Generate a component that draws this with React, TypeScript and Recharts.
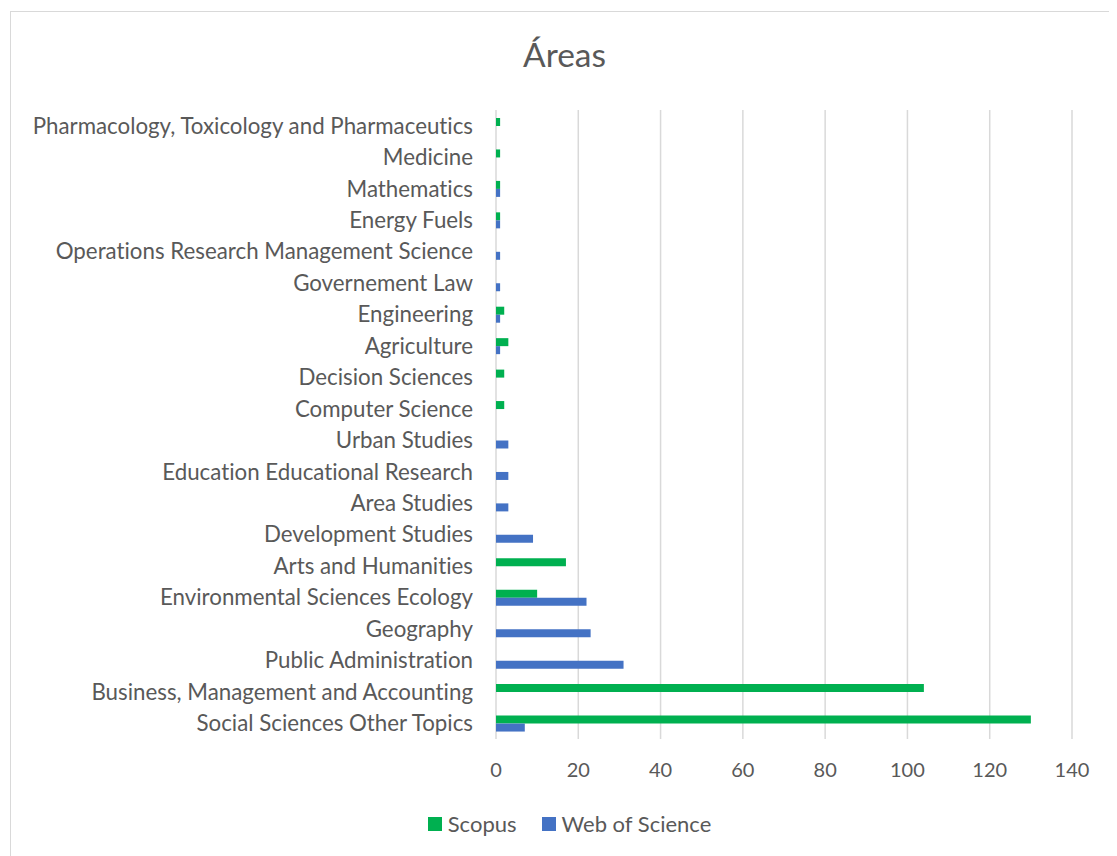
import React from "react";
import { BarChart, Bar, XAxis, YAxis, CartesianGrid } from "recharts";

const categories = [
  "Pharmacology, Toxicology and Pharmaceutics",
  "Medicine",
  "Mathematics",
  "Energy Fuels",
  "Operations Research Management Science",
  "Governement Law",
  "Engineering",
  "Agriculture",
  "Decision Sciences",
  "Computer Science",
  "Urban Studies",
  "Education Educational Research",
  "Area Studies",
  "Development Studies",
  "Arts and Humanities",
  "Environmental Sciences Ecology",
  "Geography",
  "Public Administration",
  "Business, Management and Accounting",
  "Social Sciences Other Topics",
];

const scopus = [1, 1, 1, 1, 0, 0, 2, 3, 2, 2, 0, 0, 0, 0, 17, 10, 0, 0, 104, 130];
const webOfScience = [0, 0, 1, 1, 1, 1, 1, 1, 0, 0, 3, 3, 3, 9, 0, 22, 23, 31, 0, 7];

const xTicks = [0, 20, 40, 60, 80, 100, 120, 140];

const data = categories.map((name, i) => ({
  name,
  Scopus: scopus[i],
  WoS: webOfScience[i],
}));

const FONT = "Lato, 'Open Sans', sans-serif";
const GREY = "#595959";
const NOLIG = { fontVariantLigatures: "none" as const };

export default function App() {
  return (
    <div
      style={{
        position: "relative",
        marginLeft: 2,
        marginTop: 3,
        width: 1120,
        height: 860,
        border: "1.5px solid #d9d9d9",
        boxSizing: "border-box",
        background: "#fff",
      }}
    >
      <div
        style={{
          position: "absolute",
          top: 22,
          left: 0,
          width: 1107,
          textAlign: "center",
          fontFamily: FONT,
          fontSize: 33.5,
          color: GREY,
          lineHeight: "40px",
        }}
      >
        Áreas
      </div>
      <BarChart
        width={1107}
        height={845}
        data={data}
        layout="vertical"
        margin={{ top: 98, right: 46, bottom: 58, left: 0 }}
        barGap={0}
      >
        <CartesianGrid horizontal={false} stroke="#d9d9d9" strokeWidth={1.5} />
        <XAxis
          type="number"
          domain={[0, 140]}
          ticks={xTicks}
          axisLine={false}
          tickLine={false}
          tickSize={0}
          tickMargin={24}
          height={60}
          tick={{ fill: GREY, fontSize: 20, fontFamily: FONT }}
          interval={0}
        />
        <YAxis
          type="category"
          dataKey="name"
          width={485}
          axisLine={false}
          tickLine={false}
          tickSize={0}
          tickMargin={23}
          interval={0}
          tick={{ fill: GREY, fontSize: 22.3, fontFamily: FONT, style: NOLIG }}
        />
        <Bar dataKey="Scopus" name="Scopus" fill="#00B050" barSize={8} isAnimationActive={false} />
        <Bar dataKey="WoS" name="Web of Science" fill="#4472C4" barSize={8} isAnimationActive={false} />
      </BarChart>
      <div
        style={{
          position: "absolute",
          top: 798,
          left: 0,
          width: 1117,
          display: "flex",
          justifyContent: "center",
          alignItems: "center",
          fontFamily: FONT,
          fontSize: 22,
          color: GREY,
          gap: 25,
          lineHeight: "28px",
        }}
      >
        <span style={{ display: "flex", alignItems: "center" }}>
          <span style={{ width: 14, height: 14, background: "#00B050", display: "inline-block", marginRight: 6 }} />
          Scopus
        </span>
        <span style={{ display: "flex", alignItems: "center" }}>
          <span style={{ width: 14, height: 14, background: "#4472C4", display: "inline-block", marginRight: 6 }} />
          Web of Science
        </span>
      </div>
    </div>
  );
}
